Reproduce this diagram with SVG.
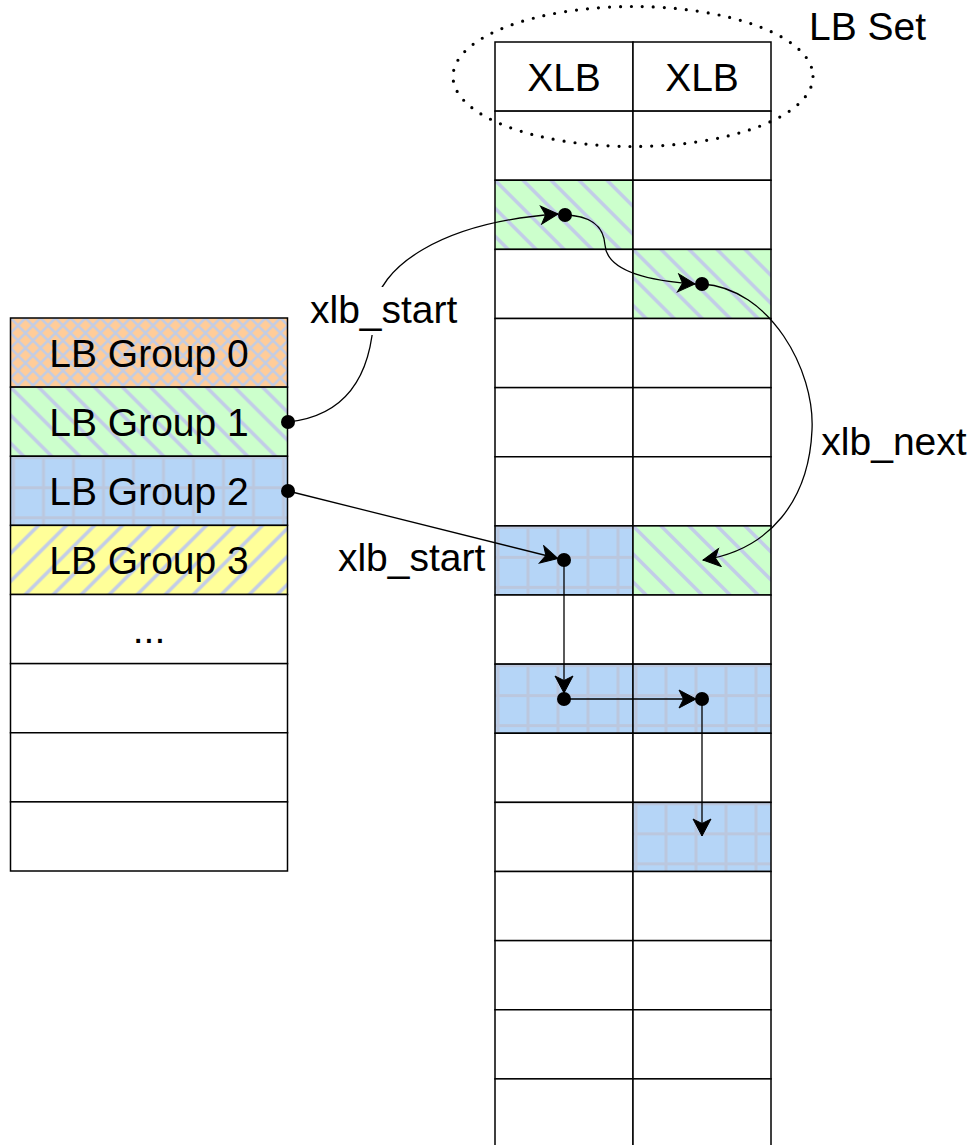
<svg xmlns="http://www.w3.org/2000/svg" width="974" height="1145" viewBox="0 0 974 1145">
<style>
.cell{stroke:#000;stroke-width:1.5}
.w{fill:#fff}
.o{fill:url(#pOrange)}
.g{fill:url(#pGreen)}
.b{fill:url(#pBlue)}
.y{fill:url(#pYellow)}
.t{font-family:"Liberation Sans",Arial,sans-serif;font-size:39px;fill:#000}
.c{text-anchor:middle}
.edge{fill:none;stroke:#000;stroke-width:1.3;marker-start:url(#dot);marker-end:url(#arr)}
</style>
<defs>
<pattern id="pOrange" width="15" height="15" patternUnits="userSpaceOnUse">
<rect width="15" height="15" fill="#FFCC99"/>
<path d="M-3,-3 L18,18 M18,-3 L-3,18 M-3,12 L3,18 M12,-3 L18,3 M12,18 L18,12 M-3,3 L3,-3" stroke="#C2CCE4" stroke-width="2.6"/>
</pattern>
<pattern id="pGreen" width="28" height="28" patternUnits="userSpaceOnUse">
<rect width="28" height="28" fill="#CCFFCC"/>
<path d="M-4,-4 L32,32 M-4,24 L4,32 M24,-4 L32,4" stroke="#C2CCE8" stroke-width="3.5"/>
</pattern>
<pattern id="pYellow" width="28" height="28" patternUnits="userSpaceOnUse">
<rect width="28" height="28" fill="#FFFF99"/>
<path d="M-4,32 L32,-4 M-4,4 L4,-4 M24,32 L32,24" stroke="#C2CCE8" stroke-width="3.5"/>
</pattern>
<pattern id="pBlue" width="30" height="30" patternUnits="userSpaceOnUse">
<rect width="30" height="30" fill="#B5D5F7"/>
<path d="M3,0 V30 M0,1.5 H30" stroke="#BBC7DE" stroke-width="3"/>
</pattern>
<marker id="arr" viewBox="-20 -10 21 20" refX="0" refY="0" markerWidth="21" markerHeight="20" markerUnits="userSpaceOnUse" orient="auto">
<path d="M0,0 L-17,-9 L-12.5,0 L-17,9 Z" fill="#000" stroke="#000" stroke-width="1"/>
</marker>
<marker id="dot" viewBox="-8 -8 16 16" refX="0" refY="0" markerWidth="16" markerHeight="16" markerUnits="userSpaceOnUse">
<circle r="7" fill="#000"/>
</marker>
</defs>
<rect width="974" height="1145" fill="#fff"/>

<!-- left table: LB Groups -->
<g id="lb-group-0" transform="translate(10.5,318)"><rect class="cell o" width="277" height="69.125"/><text class="t c" x="138.5" y="48.5">LB Group 0</text></g>
<g id="lb-group-1" transform="translate(10.5,387.125)"><rect class="cell g" width="277" height="69.125"/><text class="t c" x="138.5" y="48.5">LB Group 1</text></g>
<g id="lb-group-2" transform="translate(10.5,456.25)"><rect class="cell b" width="277" height="69.125"/><text class="t c" x="138.5" y="48.5">LB Group 2</text></g>
<g id="lb-group-3" transform="translate(10.5,525.375)"><rect class="cell y" width="277" height="69.125"/><text class="t c" x="138.5" y="48.5">LB Group 3</text></g>
<g id="lb-group-more" transform="translate(10.5,594.5)"><rect class="cell w" width="277" height="69.125"/><text class="t c" x="138.5" y="48.5">...</text></g>
<g id="lb-group-empty-5" transform="translate(10.5,663.625)"><rect class="cell w" width="277" height="69.125"/></g>
<g id="lb-group-empty-6" transform="translate(10.5,732.75)"><rect class="cell w" width="277" height="69.125"/></g>
<g id="lb-group-empty-7" transform="translate(10.5,801.875)"><rect class="cell w" width="277" height="69.125"/></g>

<!-- right table: LB Set of XLBs -->
<g id="xlb-r0-c0" transform="translate(495,42)"><rect class="cell w" width="138" height="69.125"/><text class="t c" x="69" y="48.5">XLB</text></g>
<g id="xlb-r0-c1" transform="translate(633,42)"><rect class="cell w" width="138" height="69.125"/><text class="t c" x="69" y="48.5">XLB</text></g>
<g id="xlb-r1-c0" transform="translate(495,111.125)"><rect class="cell w" width="138" height="69.125"/></g>
<g id="xlb-r1-c1" transform="translate(633,111.125)"><rect class="cell w" width="138" height="69.125"/></g>
<g id="xlb-r2-c0" transform="translate(495,180.25)"><rect class="cell g" width="138" height="69.125"/></g>
<g id="xlb-r2-c1" transform="translate(633,180.25)"><rect class="cell w" width="138" height="69.125"/></g>
<g id="xlb-r3-c0" transform="translate(495,249.375)"><rect class="cell w" width="138" height="69.125"/></g>
<g id="xlb-r3-c1" transform="translate(633,249.375)"><rect class="cell g" width="138" height="69.125"/></g>
<g id="xlb-r4-c0" transform="translate(495,318.5)"><rect class="cell w" width="138" height="69.125"/></g>
<g id="xlb-r4-c1" transform="translate(633,318.5)"><rect class="cell w" width="138" height="69.125"/></g>
<g id="xlb-r5-c0" transform="translate(495,387.625)"><rect class="cell w" width="138" height="69.125"/></g>
<g id="xlb-r5-c1" transform="translate(633,387.625)"><rect class="cell w" width="138" height="69.125"/></g>
<g id="xlb-r6-c0" transform="translate(495,456.75)"><rect class="cell w" width="138" height="69.125"/></g>
<g id="xlb-r6-c1" transform="translate(633,456.75)"><rect class="cell w" width="138" height="69.125"/></g>
<g id="xlb-r7-c0" transform="translate(495,525.875)"><rect class="cell b" width="138" height="69.125"/></g>
<g id="xlb-r7-c1" transform="translate(633,525.875)"><rect class="cell g" width="138" height="69.125"/></g>
<g id="xlb-r8-c0" transform="translate(495,595)"><rect class="cell w" width="138" height="69.125"/></g>
<g id="xlb-r8-c1" transform="translate(633,595)"><rect class="cell w" width="138" height="69.125"/></g>
<g id="xlb-r9-c0" transform="translate(495,664.125)"><rect class="cell b" width="138" height="69.125"/></g>
<g id="xlb-r9-c1" transform="translate(633,664.125)"><rect class="cell b" width="138" height="69.125"/></g>
<g id="xlb-r10-c0" transform="translate(495,733.25)"><rect class="cell w" width="138" height="69.125"/></g>
<g id="xlb-r10-c1" transform="translate(633,733.25)"><rect class="cell w" width="138" height="69.125"/></g>
<g id="xlb-r11-c0" transform="translate(495,802.375)"><rect class="cell w" width="138" height="69.125"/></g>
<g id="xlb-r11-c1" transform="translate(633,802.375)"><rect class="cell b" width="138" height="69.125"/></g>
<g id="xlb-r12-c0" transform="translate(495,871.5)"><rect class="cell w" width="138" height="69.125"/></g>
<g id="xlb-r12-c1" transform="translate(633,871.5)"><rect class="cell w" width="138" height="69.125"/></g>
<g id="xlb-r13-c0" transform="translate(495,940.625)"><rect class="cell w" width="138" height="69.125"/></g>
<g id="xlb-r13-c1" transform="translate(633,940.625)"><rect class="cell w" width="138" height="69.125"/></g>
<g id="xlb-r14-c0" transform="translate(495,1009.75)"><rect class="cell w" width="138" height="69.125"/></g>
<g id="xlb-r14-c1" transform="translate(633,1009.75)"><rect class="cell w" width="138" height="69.125"/></g>
<g id="xlb-r15-c0" transform="translate(495,1078.875)"><rect class="cell w" width="138" height="69.125"/></g>
<g id="xlb-r15-c1" transform="translate(633,1078.875)"><rect class="cell w" width="138" height="69.125"/></g>

<!-- LB Set marker -->
<g id="lb-set">
<ellipse cx="633" cy="76.5" rx="180" ry="70" fill="none" stroke="#000" stroke-width="3.2" stroke-linecap="round" stroke-dasharray="0 11"/>
<text class="t" x="809" y="40">LB Set</text>
</g>

<!-- connectors -->
<g id="connectors">
<path class="edge" d="M288,422 C345,416 372,378 374,312 C377,268 440,222 558,214"/>
<path class="edge" d="M565,215 C598,216 604,232 605,245 C607,272 650,281 695,284"/>
<path class="edge" d="M702,284 C770,288 815,370 812,430 C809,500 770,550 703,560"/>
<path class="edge" d="M288,491 L558,558.5"/>
<path class="edge" d="M564,560 L564,693"/>
<path class="edge" d="M564,699 L696,699"/>
<path class="edge" d="M702,699 L702,836"/>
</g>

<!-- edge labels -->
<g id="edge-labels">
<rect x="308" y="287" width="151" height="48" fill="#fff"/>
<text class="t c" x="383.7" y="323">xlb_start</text>
<text class="t c" x="411.6" y="571">xlb_start</text>
<text class="t c" x="894" y="455">xlb_next</text>
</g>
</svg>
